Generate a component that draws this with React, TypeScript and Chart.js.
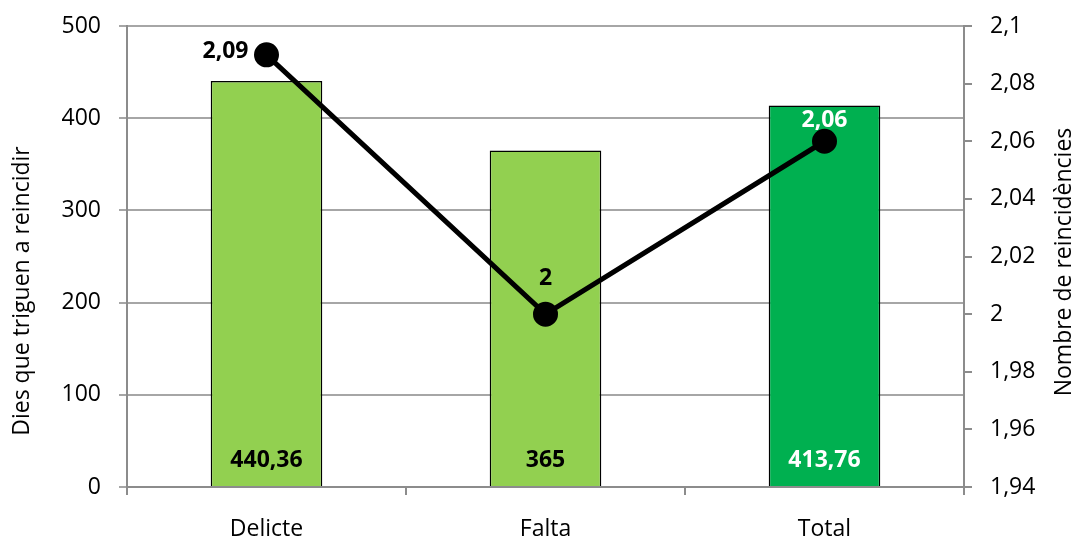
import React, { useEffect, useRef } from "react";
import { Chart, registerables } from "chart.js";

Chart.register(...registerables);

const categories = ["Delicte", "Falta", "Total"];
const diesValues = [440.36, 365, 413.76];
const reincidenciesValues = [2.09, 2.0, 2.06];
const barColors = ["#92D050", "#92D050", "#00B050"];
const barLabelColors = ["#000000", "#000000", "#FFFFFF"];
const lineLabelColors = ["#000000", "#000000", "#FFFFFF"];
const leftTitle = "Dies que triguen a reincidir";
const rightTitle = "Nombre de reincidències";

const FONT = "'Open Sans', 'Liberation Sans', sans-serif";
const fmt = (v: number) => {
  const s = Math.round(v * 100) / 100;
  return String(s).replace(".", ",");
};

const labelsPlugin = {
  id: "customLabels",
  afterDatasetsDraw(chart: any) {
    const ctx = chart.ctx;
    ctx.save();
    ctx.font = `bold 23px ${FONT}`;
    const barMeta = chart.getDatasetMeta(1);
    barMeta.data.forEach((el: any, i: number) => {
      ctx.fillStyle = barLabelColors[i];
      ctx.textAlign = "center";
      ctx.textBaseline = "middle";
      ctx.fillText(fmt(diesValues[i]), el.x, chart.chartArea.bottom - 27);
    });
    const lineMeta = chart.getDatasetMeta(0);
    lineMeta.data.forEach((el: any, i: number) => {
      ctx.fillStyle = lineLabelColors[i];
      ctx.textBaseline = "middle";
      if (i === 0) {
        ctx.textAlign = "right";
        ctx.fillText(fmt(reincidenciesValues[i]), el.x - 18, el.y - 3);
      } else if (i === 1) {
        ctx.textAlign = "center";
        ctx.fillText(fmt(reincidenciesValues[i]), el.x, el.y - 36);
      } else {
        ctx.textAlign = "center";
        ctx.fillText(fmt(reincidenciesValues[i]), el.x, el.y - 21);
      }
    });
    ctx.font = `23px ${FONT}`;
    ctx.fillStyle = "#000000";
    ctx.textAlign = "center";
    ctx.textBaseline = "middle";
    ctx.save();
    ctx.translate(22, 291);
    ctx.rotate(-Math.PI / 2);
    ctx.fillText(leftTitle, 0, 0);
    ctx.restore();
    ctx.save();
    ctx.translate(1064, 262);
    ctx.rotate(-Math.PI / 2);
    ctx.fillText(rightTitle, 0, 0);
    ctx.restore();
    ctx.restore();
  },
};

export default function App() {
  const ref = useRef<HTMLCanvasElement | null>(null);
  useEffect(() => {
    document.body.style.margin = "0";
    if (!ref.current) return;
    const chart = new Chart(ref.current, {
      type: "bar",
      data: {
        labels: categories,
        datasets: [
          {
            type: "line",
            label: "Nombre de reincidències",
            data: reincidenciesValues,
            yAxisID: "y1",
            borderColor: "#000000",
            backgroundColor: "#000000",
            borderWidth: 5,
            pointRadius: 10,
            pointBackgroundColor: "#000000",
            pointBorderColor: "#000000",
            tension: 0,
            order: 0,
          } as any,
          {
            type: "bar",
            label: "Dies que triguen a reincidir",
            data: diesValues,
            yAxisID: "y",
            backgroundColor: barColors,
            borderColor: "#000000",
            borderWidth: 1.5,
            barPercentage: 0.4,
            categoryPercentage: 1,
            order: 1,
          } as any,
        ],
      },
      options: {
        responsive: false,
        animation: false,
        layout: { padding: { top: 26, left: 0, right: 0, bottom: 0 } },
        plugins: {
          legend: { display: false },
          tooltip: { enabled: false },
        },
        scales: {
          x: {
            offset: true,
            grid: {
              offset: true,
              drawOnChartArea: false,
              drawTicks: true,
              tickLength: 8,
              color: "#8c8c8c",
              lineWidth: 2,
            },
            border: { color: "#8c8c8c", width: 2 },
            ticks: {
              color: "#000000",
              font: { family: FONT, size: 23 },
              padding: 21,
              maxRotation: 0,
            },
            afterFit: (s: any) => {
              s.height = 52;
              s.paddingLeft = 0;
              s.paddingRight = 0;
            },
          },
          y: {
            position: "left",
            min: 0,
            max: 500,
            ticks: {
              stepSize: 100,
              color: "#000000",
              font: { family: FONT, size: 23 },
              padding: 18,
            },
            grid: {
              color: "#a6a6a6",
              lineWidth: 2,
              tickLength: 8,
            },
            border: { color: "#8c8c8c", width: 2 },
            afterFit: (s: any) => {
              s.width = 127;
              s.paddingTop = 0;
              s.paddingBottom = 0;
            },
          },
          y1: {
            position: "right",
            min: 1.94,
            max: 2.1,
            ticks: {
              stepSize: 0.02,
              color: "#000000",
              font: { family: FONT, size: 23 },
              padding: 18,
              callback: (v: any) => fmt(Number(v)),
            },
            grid: {
              drawOnChartArea: false,
              color: "#8c8c8c",
              lineWidth: 2,
              tickLength: 8,
            },
            border: { color: "#8c8c8c", width: 2 },
            afterFit: (s: any) => {
              s.width = 121;
              s.paddingTop = 0;
              s.paddingBottom = 0;
            },
          },
        },
      },
      plugins: [labelsPlugin],
    });
    return () => chart.destroy();
  }, []);
  return (
    <div style={{ position: "relative", width: 1085, height: 539 }}>
      <canvas ref={ref} width={1085} height={539} style={{ width: 1085, height: 539 }} />
    </div>
  );
}
